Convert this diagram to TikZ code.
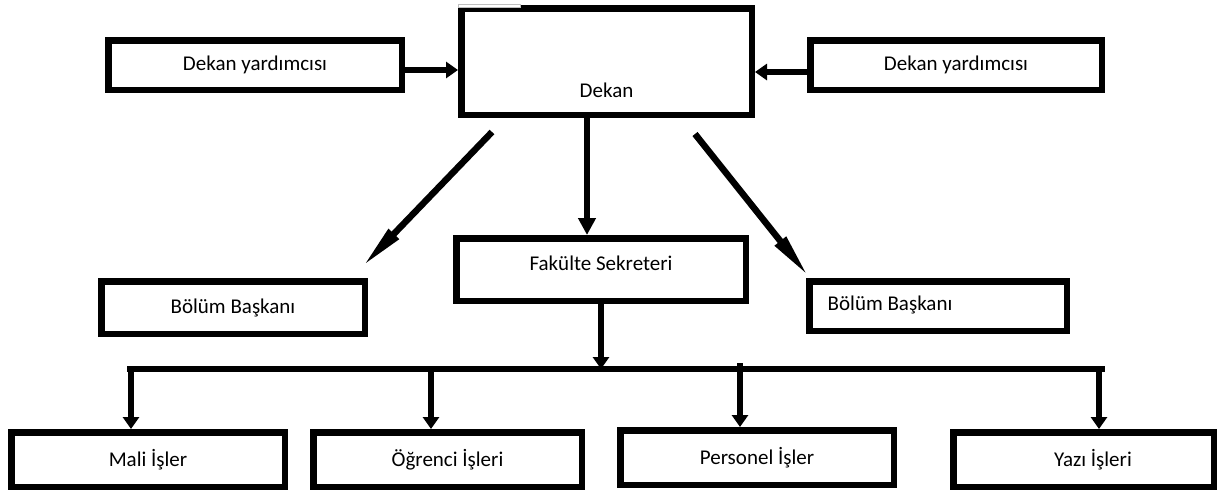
\documentclass[tikz,border=0pt]{standalone}
\usepackage{fontspec}
\setmainfont{Carlito}
\usetikzlibrary{arrows.meta}
\begin{document}
\begin{tikzpicture}[x=1pt,y=-1pt,
  box/.style={draw=black, line width=6.5pt, fill=white, rectangle, inner sep=0pt,
    font=\fontsize{21}{25}\selectfont},
  lbl/.style={inner sep=0pt, font=\fontsize{21}{25}\selectfont},
  conn/.style={draw=black, line width=6.5pt},
  arrS/.style={conn, -{Triangle[length=12pt,width=16pt]}},
  arrM/.style={conn, -{Triangle[length=17pt,width=17pt]}},
  arrL/.style={conn, -{Triangle[length=46pt,width=13pt]}}]
\useasboundingbox (0,0) rectangle (1224,490);
\fill[white] (0,0) rectangle (1224,490);

% boxes
\node[box, minimum width=290.5pt, minimum height=106.5pt,
  label={[lbl, yshift=-28.5pt]center:Dekan}] (dekan) at (606.5,61.5) {};
\fill[white, draw=gray!50, line width=0.6pt] (458.5,4.2) rectangle (520,7.6);
\node[box, minimum width=293.5pt, minimum height=49.5pt] (dy1) at (255,65) {Dekan yardımcısı};
\node[box, minimum width=291.5pt, minimum height=49.5pt] (dy2) at (956,65) {Dekan yardımcısı};
\node[box, minimum width=289.5pt, minimum height=62.5pt,
  label={[lbl, yshift=6.5pt]center:Fakülte Sekreteri}] (fak) at (601,269.5) {};
\node[box, minimum width=263.5pt, minimum height=52.5pt] (bb1) at (233,307.5) {Bölüm Başkanı};
\node[box, minimum width=257.5pt, minimum height=49.5pt,
  label={[lbl, anchor=west, xshift=21.5pt, yshift=1pt]west:Bölüm Başkanı}] (bb2) at (938,306) {};
\node[box, minimum width=273.5pt, minimum height=54.5pt] (mali) at (148,459.5) {Mali İşler};
\node[box, minimum width=268.5pt, minimum height=54.5pt] (ogr) at (447.5,459.5) {Öğrenci İşleri};
\node[box, minimum width=273.5pt, minimum height=54.5pt] (pers) at (757,457.5) {Personel İşler};
\node[box, minimum width=260.5pt, minimum height=54.5pt,
  label={[lbl, xshift=9.5pt]center:Yazı İşleri}] (yazi) at (1083.5,459.5) {};

% connectors to Dekan
\draw[arrS] ([yshift=-5pt]dy1.east) -- ([yshift=-5pt]dy1.east -| dekan.west);
\draw[arrS] ([yshift=-7pt]dy2.west) -- ([yshift=-7pt]dy2.west -| dekan.east);

% Dekan to Fakülte Sekreteri
\draw[arrM] ([xshift=-19.5pt]dekan.south) -- ([xshift=-19.5pt]dekan.south |- fak.north);

% diagonals to Bölüm Başkanı
\coordinate (l1) at ([shift={(-114.5pt,-14pt)}]dekan.south);
\coordinate (l2) at ([shift={(-6pt,11pt)}]bb1.north east);
\draw[arrL] (l1) -- (l2);
\coordinate (r1) at ([shift={(88.5pt,-16pt)}]dekan.south);
\coordinate (r2) at ([shift={(3pt,1pt)}]bb2.north west);
\draw[arrL] (r1) -- (r2);

% bus
\coordinate (busL) at (127,369);
\coordinate (busR) at (1105,369);
\draw[arrS] (fak.south) -- (fak.south |- busL);
\draw[conn] (busL) -- (busR);
\draw[arrS] ([xshift=-17pt]mali.north |- busL) -- ([xshift=-17pt]mali.north);
\draw[arrS] ([xshift=-16.5pt]ogr.north |- busL) -- ([xshift=-16.5pt]ogr.north);
\draw[arrS] ([xshift=-17pt,yshift=6pt]pers.north |- busL) -- ([xshift=-17pt]pers.north);
\draw[arrS] ([xshift=15.5pt]yazi.north |- busL) -- ([xshift=15.5pt]yazi.north);
\end{tikzpicture}
\end{document}
